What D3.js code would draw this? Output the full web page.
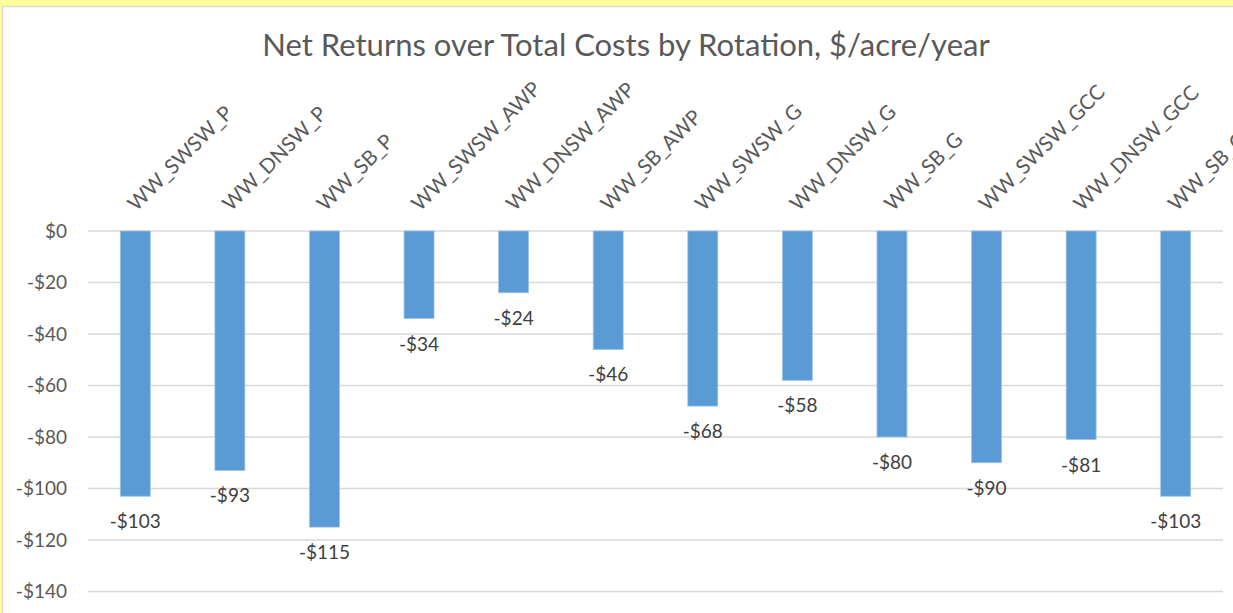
<!DOCTYPE html>
<html>
<head>
<meta charset="utf-8">
<script src="https://cdn.jsdelivr.net/npm/d3@7"></script>
<style>
  body { margin: 0; background: #ffff99; overflow: hidden; }
  svg { display: block; font-family: Lato, "Open Sans", sans-serif; }
</style>
</head>
<body>
<div id="main"></div>
<script>
// data
const categories = ["WW_SWSW_P", "WW_DNSW_P", "WW_SB_P", "WW_SWSW_AWP", "WW_DNSW_AWP", "WW_SB_AWP",
    "WW_SWSW_G", "WW_DNSW_G", "WW_SB_G", "WW_SWSW_GCC", "WW_DNSW_GCC", "WW_SB_GCC"];
const netReturns = [-103, -93, -115, -34, -24, -46, -68, -58, -80, -90, -81, -103];
const yTicks = [0, -20, -40, -60, -80, -100, -120, -140];
const title = "Net Returns over Total Costs by Rotation, $/acre/year";

// dimensions
const svg_width = 1233,
    svg_height = 613;
const plot = {left: 88, right: 1223, top: 231, bottom: 591.5};

var svg = d3.select("#main").append("svg")
    .attr("width", svg_width)
    .attr("height", svg_height);

// chart area (white, with light border)
svg.append("rect")
    .attr("x", 2.5).attr("y", 6.5)
    .attr("width", svg_width + 20).attr("height", svg_height + 20)
    .attr("fill", "#ffffff")
    .attr("stroke", "#d9d9d9")
    .attr("stroke-width", 1.5);

// title
svg.append("text")
    .attr("x", 626)
    .attr("y", 56)
    .attr("text-anchor", "middle")
    .attr("fill", "#595959")
    .style("font-size", "31px")
    .text(title);

// scales
var xScale = d3.scaleBand()
    .domain(categories)
    .range([plot.left, plot.right])
    .paddingInner(0.683)
    .paddingOuter(0.3415);
var yScale = d3.scaleLinear()
    .domain([-140, 0])
    .range([plot.bottom, plot.top]);

// gridlines + y labels
var yAxis = svg.append("g").attr("id", "y-axis");
yAxis.selectAll("line")
    .data(yTicks)
    .enter().append("line")
    .attr("x1", plot.left).attr("x2", plot.right)
    .attr("y1", d => yScale(d)).attr("y2", d => yScale(d))
    .attr("stroke", "#d9d9d9")
    .attr("stroke-width", 1.5);
yAxis.selectAll("text")
    .data(yTicks)
    .enter().append("text")
    .attr("x", 67)
    .attr("y", d => yScale(d))
    .attr("dy", "0.35em")
    .attr("text-anchor", "end")
    .attr("fill", "#595959")
    .style("font-size", "19px")
    .text(d => (d < 0 ? "-$" : "$") + Math.abs(d));

// bars
svg.selectAll(".bar")
    .data(netReturns)
    .enter().append("rect")
    .attr("class", "bar")
    .attr("x", (d, i) => xScale(categories[i]))
    .attr("y", d => yScale(0))
    .attr("width", xScale.bandwidth())
    .attr("height", d => yScale(d) - yScale(0))
    .attr("fill", "#5b9bd5")
    .attr("stroke", "#9dc3e6")
    .attr("stroke-width", 0.75);

// data labels
svg.selectAll(".value-label")
    .data(netReturns)
    .enter().append("text")
    .attr("class", "value-label")
    .attr("x", (d, i) => xScale(categories[i]) + xScale.bandwidth() / 2)
    .attr("y", d => yScale(d) + 32)
    .attr("text-anchor", "middle")
    .attr("fill", "#404040")
    .style("font-size", "19px")
    .text(d => (d < 0 ? "-$" : "$") + Math.abs(d));

// category labels, rotated
svg.selectAll(".cat-label")
    .data(categories)
    .enter().append("text")
    .attr("class", "cat-label")
    .attr("transform", d => `translate(${xScale(d) + xScale.bandwidth() / 2 - 4}, 207) rotate(-45)`)
    .attr("dy", "0.35em")
    .attr("text-anchor", "start")
    .attr("fill", "#595959")
    .style("font-size", "20.5px")
    .text(d => d);
</script>
</body>
</html>
